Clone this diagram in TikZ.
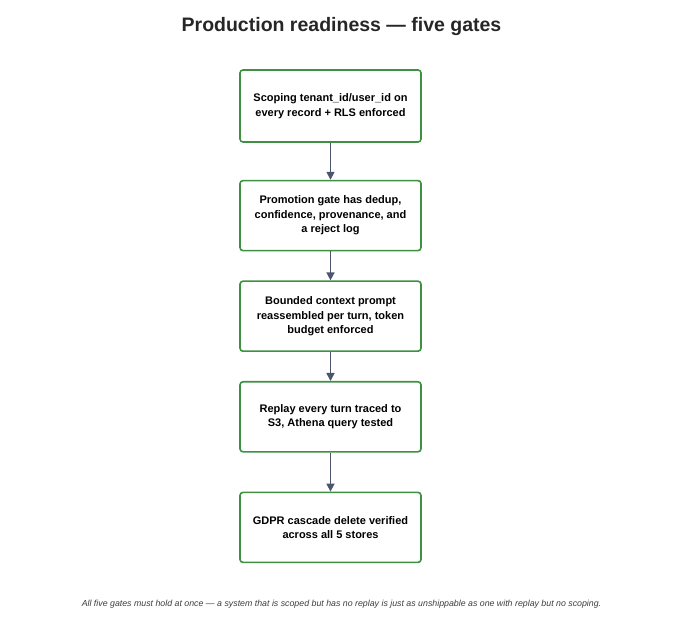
\documentclass[tikz,border=0pt]{standalone}
\usepackage{fontspec}
\setmainfont{Liberation Sans}
\usetikzlibrary{positioning, arrows.meta}
\definecolor{gateGreen}{RGB}{61, 145, 64}
\definecolor{arrowSlate}{RGB}{75, 85, 110}
\definecolor{noteGrey}{RGB}{60, 60, 60}

\begin{document}
\begin{tikzpicture} [
        x=1pt, y=-1pt,
        gate/.style={draw=gateGreen, line width=1.6pt, rounded corners=3pt, fill=white, minimum width=181pt, minimum height=70pt, align=center, font=\fontsize{11}{14.5}\selectfont\bfseries},
        flow/.style={-{Triangle[length=8pt, width=8pt]}, draw=arrowSlate, line width=1.6pt},
        title/.style={font=\fontsize{19.5}{23}\selectfont\bfseries, text=black!85},
        note/.style={font=\fontsize{8.8}{10}\selectfont\itshape, text=noteGrey},
    ]
    \useasboundingbox (0,0) rectangle (683,628);

    \node[title] (title) at (341.5,27) {Production readiness — five gates};

    \node[gate, minimum height=72pt] (scoping) at (330.5,106) {Scoping tenant\_id/user\_id on\\every record + RLS enforced};
    \node[gate, below=37pt of scoping] (promotion) {Promotion gate has dedup,\\confidence, provenance, and\\a reject log};
    \node[gate, below=29pt of promotion] (context) {Bounded context prompt\\reassembled per turn, token\\budget enforced};
    \node[gate, below=29pt of context] (replay) {Replay every turn traced to\\S3, Athena query tested};
    \node[gate, below=39pt of replay] (gdpr) {GDPR cascade delete verified\\across all 5 stores};

    \draw[flow] (scoping) -- (promotion);
    \draw[flow] (promotion) -- (context);
    \draw[flow] (context) -- (replay);
    \draw[flow] (replay) -- (gdpr);

    \node[note] (footnote) at (341.5,604) {All five gates must hold at once — a system that is scoped but has no replay is just as unshippable as one with replay but no scoping.};
\end{tikzpicture}
\end{document}
